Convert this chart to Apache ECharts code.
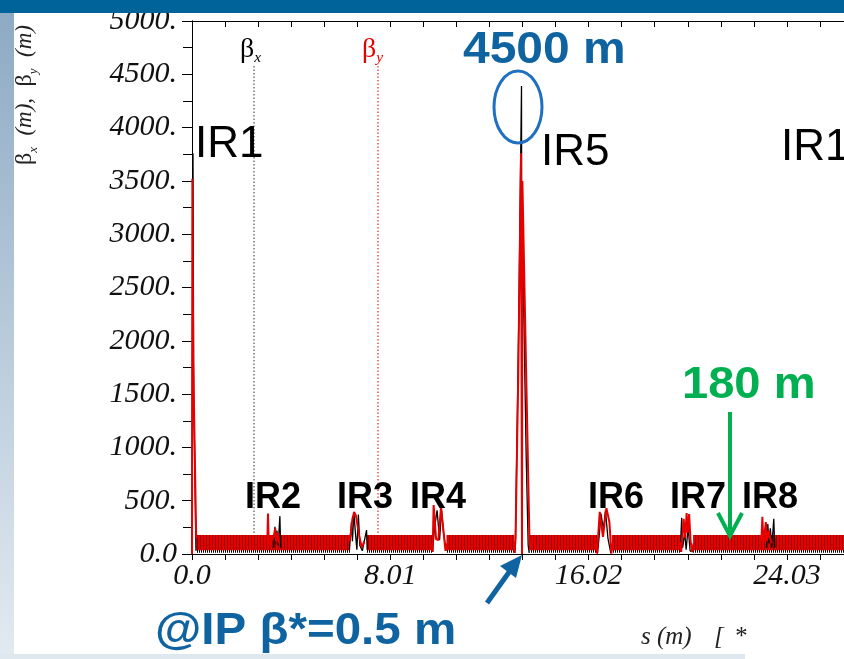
<!DOCTYPE html>
<html>
<head>
<meta charset="utf-8">
<script src="https://cdn.jsdelivr.net/npm/echarts@6/dist/echarts.min.js"></script>
<style>
  html, body { margin: 0; padding: 0; background: #ffffff; overflow: hidden; }
  #chart { width: 870px; height: 659px; }
</style>
</head>
<body>
<div id="chart"></div>
<script>
// ---- axis tick labels ----
const sTickLabels = ['0.0', '8.01', '16.02', '24.03'];           // every 6th tick, km
const betaTickLabels = ['0.0', '500.', '1000.', '1500.', '2000.', '2500.',
                        '3000.', '3500.', '4000.', '4500.', '5000.'];

// ---- arc sections (dense FODO beating shown as an envelope), s in km, beta in m ----
const arcStart    = [0.17, 7.06, 10.28, 13.64, 16.96, 20.24];
const arcEnd      = [6.38, 9.70, 13.02, 16.36, 19.74, 26.70];
const arcBetaYMin = [35, 35, 35, 35, 35, 35];
const arcBetaYMax = [178, 178, 178, 178, 178, 178];
const arcBetaXMin = [12, 12, 12, 12, 12, 12];
const arcBetaXMax = [60, 60, 60, 60, 60, 60];

// ---- insertion regions, [s (km), beta (m)] ----
const ir1BetaX = [[0.0, 0.5], [0.04, 3760], [0.07, 1500], [0.16, 30]];
const ir1BetaY = [[0.0, 0.5], [0.015, 3520], [0.05, 1800], [0.17, 150]];

const ir2BetaX = [[3.30, 60], [3.35, 255], [3.38, 100], [3.43, 220], [3.48, 80], [3.55, 355], [3.58, 60]];
const ir2BetaY = [[3.04, 100], [3.07, 380], [3.10, 90], [3.30, 160], [3.36, 240], [3.40, 110], [3.46, 200], [3.52, 100]];

const ir3BetaX = [[6.36, 40], [6.44, 300], [6.48, 120], [6.54, 390], [6.60, 200], [6.66, 40], [6.72, 370],
                  [6.78, 80], [6.88, 30], [7.05, 225], [7.08, 40]];
const ir3BetaY = [[6.36, 120], [6.42, 200], [6.48, 330], [6.55, 395], [6.62, 360], [6.70, 250], [6.78, 140],
                  [6.86, 60], [6.96, 120]];

const ir4BetaX = [[9.72, 30], [9.80, 250], [9.90, 410], [10.00, 130], [10.08, 410], [10.16, 200], [10.26, 30]];
const ir4BetaY = [[9.68, 100], [9.72, 20], [9.76, 460], [9.86, 140], [9.95, 130], [10.06, 440], [10.12, 300],
                  [10.24, 30], [10.30, 100]];

const ir5BetaX = [[13.03, 10], [13.06, 60], [13.20, 2200], [13.31, 4390], [13.329, 0.5], [13.35, 3000],
                  [13.50, 900], [13.58, 80], [13.62, 10]];
const ir5BetaY = [[13.00, 120], [13.03, 10], [13.07, 150], [13.18, 1700], [13.29, 3760], [13.33, 1],
                  [13.345, 3500], [13.63, 150], [13.66, 40], [13.68, 120]];

const ir6BetaX = [[16.38, 5], [16.46, 200], [16.52, 380], [16.62, 230], [16.70, 410], [16.80, 150], [16.92, 5]];
const ir6BetaY = [[16.32, 100], [16.36, 5], [16.47, 395], [16.60, 160], [16.74, 430], [16.86, 300],
                  [16.94, 5], [16.98, 100]];

const ir7BetaX = [[19.72, 20], [19.78, 340], [19.82, 60], [19.90, 200], [19.96, 40], [20.04, 250],
                  [20.12, 30], [20.22, 20]];
const ir7BetaY = [[19.70, 110], [19.76, 20], [19.86, 330], [19.92, 150], [19.98, 385], [20.02, 200],
                  [20.08, 375], [20.14, 120], [20.20, 20], [20.26, 100]];

const ir8BetaX = [[23.20, 60], [23.26, 280], [23.30, 100], [23.36, 240], [23.42, 60], [23.50, 330], [23.54, 60]];
const ir8BetaY = [[23.00, 120], [23.04, 350], [23.08, 100], [23.18, 300], [23.22, 120], [23.30, 220],
                  [23.36, 140], [23.42, 100]];

const irBetaX = [ir1BetaX, ir2BetaX, ir3BetaX, ir4BetaX, ir5BetaX, ir6BetaX, ir7BetaX, ir8BetaX];
const irBetaY = [ir1BetaY, ir2BetaY, ir3BetaY, ir4BetaY, ir5BetaY, ir6BetaY, ir7BetaY, ir8BetaY];

// ---- colours ----
const RED = '#e60000';
const BLACK = '#000000';
const SLIDE_BLUE = '#0f63a0';

// vertical hatch used to fill the dense arc oscillations
function hatch(base, line, period) {
  const c = document.createElement('canvas');
  c.width = period; c.height = 4;
  const g = c.getContext('2d');
  g.fillStyle = base; g.fillRect(0, 0, period, 4);
  g.fillStyle = line; g.fillRect(period - 1, 0, 1, 4);
  return c;
}
const redHatch = { image: hatch(RED, '#9a0000', 3), repeat: 'repeat' };
const blackHatch = { image: hatch('#ffffff', '#000000', 2), repeat: 'repeat' };

function bandData(minArr, maxArr) {
  return arcStart.map((s, i) => [s, arcEnd[i], minArr[i], maxArr[i]]);
}
function bandSeries(name, data, fill, z) {
  return {
    type: 'custom', name, data, z, silent: true,
    encode: { x: [0, 1], y: [2, 3] },
    renderItem(params, api) {
      const p0 = api.coord([api.value(0), api.value(3)]);
      const p1 = api.coord([api.value(1), api.value(2)]);
      return { type: 'rect', shape: { x: p0[0], y: p0[1], width: p1[0] - p0[0], height: p1[1] - p0[1] },
               style: { fill } };
    }
  };
}

const series = [
  bandSeries('betaXArc', bandData(arcBetaXMin, arcBetaXMax), blackHatch, 2),
  bandSeries('betaYArc', bandData(arcBetaYMin, arcBetaYMax), redHatch, 3)
];
irBetaX.forEach((d, i) => series.push({
  type: 'line', name: 'betaX' + (i + 1), data: d, showSymbol: false, symbol: 'none', z: 4,
  lineStyle: { color: BLACK, width: 1.3 }, silent: true
}));
irBetaY.forEach((d, i) => series.push({
  type: 'line', name: 'betaY' + (i + 1), data: d, showSymbol: false, symbol: 'none', z: 5,
  lineStyle: { color: RED, width: 2 }, silent: true
}));

const tickFont = { fontFamily: 'Liberation Serif', fontStyle: 'italic', fontSize: 30, color: '#111' };

function bigText(text, x, y, size, weight, color, sx) {
  return { type: 'text', x, y, z: 50, scaleX: sx || 1,
    style: { text, fill: color, font: `${weight} ${size}px "Liberation Sans", Arial, sans-serif`,
             verticalAlign: 'middle', align: 'left' } };
}
function greekLabel(x, y, sub, color, size) {
  return { type: 'text', x, y, z: 40,
    style: { text: `{b|β}{s|${sub}}`, fill: color, verticalAlign: 'middle', align: 'left',
      rich: {
        b: { fontFamily: 'Liberation Serif', fontSize: size, fill: color, lineHeight: 30, verticalAlign: 'middle' },
        s: { fontFamily: 'Liberation Serif', fontStyle: 'italic', fontSize: size * 0.55, fill: color,
             lineHeight: 30, verticalAlign: 'bottom' }
      } } };
}

const graphic = [
  // slide furniture
  { type: 'rect', shape: { x: 0, y: 0, width: 870, height: 13 }, style: { fill: '#00639a' }, z: 100 },
  { type: 'rect', shape: { x: 0, y: 13, width: 14, height: 646 }, z: 100,
    style: { fill: new echarts.graphic.LinearGradient(0, 0, 0, 1,
      [{ offset: 0, color: '#8dabc4' }, { offset: 1, color: '#e3eaf1' }]) } },
  { type: 'rect', shape: { x: 0, y: 654, width: 745, height: 5 }, style: { fill: '#dfe7ef' }, z: 100 },

  // legend with dotted guide lines
  greekLabel(240, 50, 'x', BLACK, 28),
  greekLabel(362, 50, 'y', RED, 28),
  { type: 'line', z: 1, shape: { x1: 254, y1: 66, x2: 254, y2: 552 },
    style: { stroke: '#333', lineWidth: 1, lineDash: [1.5, 2] } },
  { type: 'line', z: 1, shape: { x1: 378, y1: 66, x2: 378, y2: 552 },
    style: { stroke: RED, lineWidth: 1, lineDash: [1.5, 2] } },

  // vertical axis title
  { type: 'text', x: 25, y: 95, rotation: Math.PI / 2, z: 40,
    style: { text: '{b|β}{s|x}{t|  (m),  }{b|β}{s|y}{t|  (m)}', align: 'center', verticalAlign: 'middle', fill: '#222',
      rich: {
        b: { fontFamily: 'Liberation Serif', fontSize: 24, lineHeight: 30, verticalAlign: 'middle', fill: '#222' },
        s: { fontFamily: 'Liberation Serif', fontStyle: 'italic', fontSize: 13, lineHeight: 30, verticalAlign: 'bottom', fill: '#222' },
        t: { fontFamily: 'Liberation Serif', fontStyle: 'italic', fontSize: 23, lineHeight: 30, verticalAlign: 'middle', fill: '#222' }
      } } },
  // horizontal axis title
  { type: 'text', x: 641, y: 637, z: 40,
    style: { text: 's (m)', font: 'italic 25px "Liberation Serif"', fill: '#222', verticalAlign: 'middle' } },
  { type: 'text', x: 714, y: 637, z: 40,
    style: { text: '[', font: 'italic 25px "Liberation Serif"', fill: '#222', verticalAlign: 'middle' } },
  { type: 'text', x: 734, y: 637, z: 40,
    style: { text: '*', font: 'italic 25px "Liberation Serif"', fill: '#222', verticalAlign: 'middle' } },

  // region labels
  bigText('IR1', 195, 145, 44, 'normal', BLACK),
  bigText('IR5', 541, 153, 44, 'normal', BLACK),
  bigText('IR1', 781, 148, 44, 'normal', BLACK),
  bigText('IR2', 245, 498, 36, 'bold', BLACK),
  bigText('IR3', 337, 498, 36, 'bold', BLACK),
  bigText('IR4', 410, 498, 36, 'bold', BLACK),
  bigText('IR6', 588, 498, 36, 'bold', BLACK),
  bigText('IR7', 670, 498, 36, 'bold', BLACK),
  bigText('IR8', 742, 498, 36, 'bold', BLACK),

  // callouts
  bigText('4500 m', 463, 51, 44, 'bold', SLIDE_BLUE, 1.09),
  { type: 'ellipse', z: 50, shape: { cx: 518, cy: 107, rx: 24, ry: 36 },
    style: { fill: 'none', stroke: '#1f70c0', lineWidth: 3 } },
  bigText('180 m', 682, 386, 44, 'bold', '#00b050', 1.07),
  { type: 'line', z: 50, shape: { x1: 730, y1: 412, x2: 730, y2: 534 },
    style: { stroke: '#00b050', lineWidth: 4 } },
  { type: 'polyline', z: 50, shape: { points: [[718, 513], [730, 536], [742, 513]] },
    style: { stroke: '#00b050', lineWidth: 4, fill: 'none' } },
  bigText('@IP β*=0.5 m', 155, 632, 44, 'bold', SLIDE_BLUE, 1.08),
  { type: 'line', z: 50, shape: { x1: 487, y1: 603, x2: 512, y2: 568 },
    style: { stroke: SLIDE_BLUE, lineWidth: 5 } },
  { type: 'polygon', z: 50, shape: { points: [[522, 555], [500, 566], [516, 578]] },
    style: { fill: SLIDE_BLUE } }
];

const option = {
  animation: false,
  backgroundColor: '#ffffff',
  grid: { left: 192, top: 21, width: 661, height: 533 },
  xAxis: [
    { type: 'value', position: 'bottom', min: 0, max: 26.7, interval: 1.335,
      axisLine: { show: true, lineStyle: { color: '#000', width: 1 } },
      axisTick: { show: true, inside: false, length: 6, lineStyle: { color: '#000' } },
      splitLine: { show: false },
      axisLabel: { ...tickFont, margin: 7,
        formatter: (v, i) => (i % 6 === 0 && sTickLabels[i / 6] !== undefined) ? sTickLabels[i / 6] : '' } },
    { type: 'value', position: 'top', min: 0, max: 26.7, interval: 1.335,
      axisLine: { show: true, onZero: false, lineStyle: { color: '#000', width: 1 } },
      axisTick: { show: true, inside: true, length: 6, lineStyle: { color: '#000' } },
      axisLabel: { show: false }, splitLine: { show: false } }
  ],
  yAxis: [
    { type: 'value', position: 'left', min: 0, max: 5000, interval: 500,
      axisLine: { show: true, lineStyle: { color: '#000', width: 1 } },
      axisTick: { show: true, inside: false, length: 9, lineStyle: { color: '#000' } },
      minorTick: { show: true, splitNumber: 2, length: 8, lineStyle: { color: '#000' } },
      splitLine: { show: false },
      axisLabel: { ...tickFont, margin: 15,
        formatter: (v) => betaTickLabels[Math.round(v / 500)] } },
    { type: 'value', position: 'right', min: 0, max: 5000, interval: 500,
      axisLine: { show: true, lineStyle: { color: '#000', width: 1 } },
      axisTick: { show: true, inside: true, length: 10, lineStyle: { color: '#000' } },
      minorTick: { show: true, splitNumber: 2, length: 9, lineStyle: { color: '#000' } },
      axisLabel: { show: false }, splitLine: { show: false } }
  ],
  series,
  graphic
};

const chart = echarts.init(document.getElementById('chart'), null, { renderer: 'canvas', width: 870, height: 659 });
chart.setOption(option);
</script>
</body>
</html>
